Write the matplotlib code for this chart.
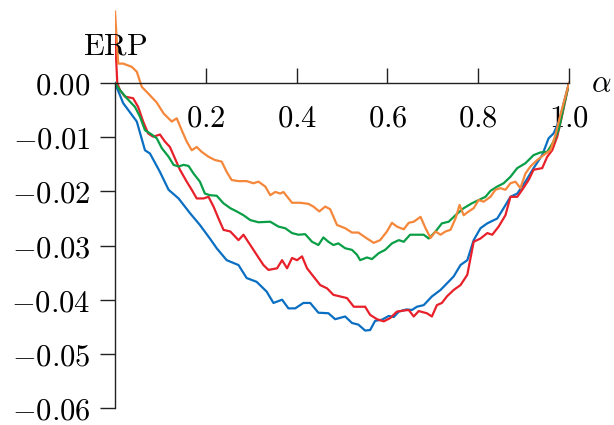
import numpy as np
import matplotlib
matplotlib.use('Agg')
import matplotlib.pyplot as plt

plt.rcParams['mathtext.fontset'] = 'cm'

# ERP curves
blue_x = [0, 0.018, 0.048, 0.066, 0.077, 0.099, 0.118, 0.140, 0.165, 0.187,
          0.209, 0.224, 0.246, 0.272, 0.290, 0.312, 0.334, 0.349, 0.368, 0.382,
          0.397, 0.415, 0.43, 0.448, 0.47, 0.485, 0.507, 0.522, 0.536, 0.551,
          0.562, 0.573, 0.588, 0.603, 0.614, 0.625, 0.642, 0.654, 0.665, 0.680,
          0.698, 0.717, 0.731, 0.746, 0.761, 0.776, 0.79, 0.805, 0.82, 0.842,
          0.856, 0.871, 0.886, 0.904, 0.922, 0.941, 0.955, 0.966, 0.978, 0.989, 1.0]
blue_y = [0, -0.0037, -0.0071, -0.0124, -0.013, -0.0164, -0.0197, -0.0213, -0.024, -0.0262,
          -0.0287, -0.0305, -0.0327, -0.0336, -0.036, -0.0367, -0.0385, -0.0406, -0.040, -0.0416,
          -0.0416, -0.0406, -0.0406, -0.0424, -0.0425, -0.0436, -0.0431, -0.0443, -0.0446, -0.0457,
          -0.0456, -0.0439, -0.0437, -0.043, -0.0432, -0.0422, -0.0418, -0.0419, -0.0413, -0.041,
          -0.0394, -0.0382, -0.037, -0.0357, -0.0336, -0.0327, -0.029, -0.0268, -0.0259, -0.025,
          -0.0231, -0.021, -0.0204, -0.0182, -0.0157, -0.0133, -0.0102, -0.0093, -0.0071, -0.0035, 0]

red_x = [0, 0.005, 0.011, 0.022, 0.04, 0.051, 0.062, 0.073, 0.084, 0.099,
         0.11, 0.121, 0.132, 0.143, 0.158, 0.169, 0.18, 0.195, 0.206, 0.217,
         0.228, 0.239, 0.254, 0.272, 0.283, 0.298, 0.312, 0.327, 0.338, 0.357,
         0.368, 0.379, 0.39, 0.401, 0.412, 0.423, 0.437, 0.452, 0.467, 0.481,
         0.496, 0.511, 0.526, 0.54, 0.551, 0.562, 0.577, 0.592, 0.606, 0.621,
         0.636, 0.647, 0.658, 0.669, 0.687, 0.698, 0.709, 0.72, 0.731, 0.746,
         0.761, 0.776, 0.79, 0.805, 0.82, 0.831, 0.845, 0.86, 0.871, 0.886,
         0.897, 0.911, 0.922, 0.941, 0.952, 0.963, 0.974, 0.985, 1.0]
red_y = [0.009, 0.0, -0.0013, -0.0025, -0.0028, -0.0044, -0.0071, -0.0093, -0.0099, -0.0095,
         -0.0108, -0.0118, -0.0139, -0.016, -0.0182, -0.0197, -0.0213, -0.0213, -0.021, -0.0228,
         -0.025, -0.0271, -0.0274, -0.029, -0.028, -0.0299, -0.0317, -0.0336, -0.0345, -0.0342,
         -0.0327, -0.0342, -0.0323, -0.0327, -0.032, -0.0342, -0.0357, -0.0373, -0.0379, -0.0391,
         -0.0394, -0.0397, -0.0413, -0.0413, -0.0413, -0.0428, -0.0436, -0.044, -0.0434, -0.0422,
         -0.042, -0.0419, -0.0431, -0.0421, -0.0425, -0.0431, -0.041, -0.0406, -0.0394, -0.0382,
         -0.0373, -0.0354, -0.0293, -0.0287, -0.0277, -0.028, -0.0265, -0.0244, -0.021, -0.021,
         -0.0197, -0.0179, -0.016, -0.0157, -0.0136, -0.0124, -0.0099, -0.0059, 0]

green_x = [0, 0.011, 0.026, 0.044, 0.055, 0.066, 0.081, 0.092, 0.103, 0.118,
           0.129, 0.14, 0.151, 0.162, 0.173, 0.187, 0.198, 0.209, 0.224, 0.239,
           0.254, 0.268, 0.283, 0.298, 0.316, 0.342, 0.36, 0.375, 0.39, 0.404,
           0.419, 0.434, 0.448, 0.459, 0.47, 0.481, 0.492, 0.507, 0.522, 0.533,
           0.54, 0.555, 0.566, 0.581, 0.595, 0.61, 0.625, 0.636, 0.65, 0.665,
           0.68, 0.691, 0.706, 0.72, 0.735, 0.75, 0.768, 0.786, 0.801, 0.816,
           0.827, 0.842, 0.856, 0.871, 0.886, 0.904, 0.922, 0.937, 0.952, 0.966,
           0.978, 0.989, 1.0]
green_y = [0, -0.0013, -0.0028, -0.0044, -0.0062, -0.0087, -0.0095, -0.0102, -0.012, -0.0136,
           -0.0151, -0.0154, -0.0151, -0.0153, -0.0167, -0.0182, -0.0204, -0.0207, -0.0208, -0.0222,
           -0.0231, -0.0237, -0.0244, -0.0253, -0.0257, -0.0256, -0.0265, -0.0268, -0.0277, -0.028,
           -0.0279, -0.0293, -0.0299, -0.0285, -0.0293, -0.0299, -0.0296, -0.0305, -0.0308, -0.0317,
           -0.0327, -0.0322, -0.0325, -0.0314, -0.0308, -0.0296, -0.029, -0.0293, -0.028, -0.028,
           -0.028, -0.0287, -0.0274, -0.0259, -0.0256, -0.0244, -0.0231, -0.0222, -0.0216, -0.021,
           -0.0199, -0.0191, -0.0185, -0.0173, -0.0157, -0.0148, -0.0133, -0.0128, -0.0127, -0.0108,
           -0.0084, -0.0041, 0]

orange_x = [0, 0.007, 0.018, 0.037, 0.048, 0.059, 0.073, 0.092, 0.107, 0.125,
            0.136, 0.147, 0.158, 0.169, 0.18, 0.191, 0.206, 0.22, 0.235, 0.246,
            0.257, 0.272, 0.29, 0.305, 0.316, 0.331, 0.342, 0.353, 0.364, 0.371,
            0.39, 0.408, 0.426, 0.437, 0.45, 0.463, 0.474, 0.489, 0.507, 0.522,
            0.536, 0.555, 0.57, 0.584, 0.599, 0.61, 0.621, 0.636, 0.647, 0.658,
            0.673, 0.684, 0.695, 0.706, 0.717, 0.728, 0.739, 0.75, 0.759, 0.768,
            0.779, 0.79, 0.801, 0.812, 0.827, 0.838, 0.849, 0.86, 0.871, 0.882,
            0.893, 0.904, 0.915, 0.93, 0.944, 0.959, 0.97, 0.981, 1.0]
orange_y = [0.0132, 0.0036, 0.0036, 0.003, 0.0021, -0.0007, -0.0019, -0.0036, -0.0056, -0.0071,
            -0.0065, -0.0087, -0.0108, -0.0124, -0.0118, -0.0127, -0.0136, -0.0142, -0.0145, -0.0164,
            -0.0179, -0.0181, -0.0181, -0.0185, -0.0182, -0.0191, -0.0207, -0.0201, -0.0204, -0.0201,
            -0.0221, -0.0221, -0.0223, -0.0228, -0.0237, -0.0228, -0.0233, -0.0262, -0.0268, -0.0276,
            -0.0276, -0.0287, -0.0295, -0.029, -0.0274, -0.0258, -0.0265, -0.027, -0.0258, -0.0256,
            -0.0247, -0.0268, -0.0286, -0.0274, -0.028, -0.0274, -0.0271, -0.025, -0.0225, -0.0244,
            -0.0237, -0.0231, -0.0216, -0.0219, -0.021, -0.0197, -0.0194, -0.0197, -0.0185, -0.0182,
            -0.0194, -0.0167, -0.0154, -0.0142, -0.0133, -0.0124, -0.0096, -0.0059, 0]

xticks = [0.2, 0.4, 0.6, 0.8, 1.0]
xtick_labels = ['0.2', '0.4', '0.6', '0.8', '1.0']
yticks = [0.0, -0.01, -0.02, -0.03, -0.04, -0.05, -0.06]
ytick_labels = ['0.00', '-0.01', '-0.02', '-0.03', '-0.04', '-0.05', '-0.06']

fig = plt.figure(figsize=(6.14, 4.25), dpi=100)
ax = fig.add_axes([115 / 614, 17 / 425, 454 / 614, 398 / 425])

lw = 1.6
ax.plot(blue_x, blue_y, color='#0a6fc2', lw=lw)
ax.plot(red_x, red_y, color='#e8202a', lw=lw)
ax.plot(green_x, green_y, color='#0a9e46', lw=lw)
ax.plot(orange_x, orange_y, color='#f5873a', lw=lw)

ax.set_xlim(0, 1.0)
ax.set_ylim(-0.06, 0.0135)

for s in ['top', 'right']:
    ax.spines[s].set_visible(False)
ax.spines['bottom'].set_position(('data', 0))
ax.spines['bottom'].set_bounds(0, 1.0)
ax.spines['left'].set_bounds(-0.06, 0)
for s in ['bottom', 'left']:
    ax.spines[s].set_linewidth(1.0)
    ax.spines[s].set_color('#222222')

ax.set_xticks(xticks)
ax.set_xticklabels(['$' + t + '$' for t in xtick_labels])
ax.set_yticks(yticks)
ax.set_yticklabels(['$' + t + '$' for t in ytick_labels])
ax.tick_params(axis='x', direction='in', length=10.8, width=1.0, pad=15,
               labelsize=22, color='#222222')
ax.tick_params(axis='y', direction='out', length=10.8, width=1.0, pad=7,
               labelsize=22, color='#222222')

ax.text(0, 0.0052, r'$\mathrm{ERP}$', fontsize=22, ha='center', va='baseline')
ax.text(1.072, 0, r'$\alpha$', fontsize=22, ha='center', va='center', clip_on=False)

fig.savefig('out.png', dpi=100)
